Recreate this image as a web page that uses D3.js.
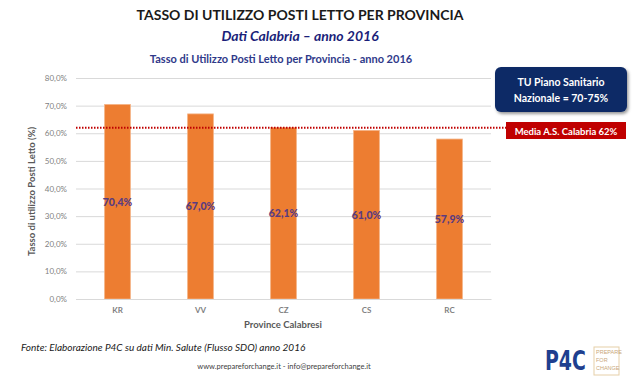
<!DOCTYPE html>
<html lang="it">
<head>
<meta charset="utf-8">
<title>Tasso di utilizzo posti letto</title>
<script src="https://d3js.org/d3.v7.min.js"></script>
<style>
  body { margin: 0; background: #fff; }
  svg { display: block; font-family: Lato, "Open Sans", sans-serif; }
</style>
</head>
<body>
<script>
// data
const province = ["KR", "VV", "CZ", "CS", "RC"];
const tasso = [70.4, 67.0, 62.1, 61.0, 57.9];
const yTicks = [0, 10, 20, 30, 40, 50, 60, 70, 80];
const mediaCalabria = 62;

const W = 632, H = 384;
const m = { left: 76, right: 141, top: 78, bottom: 85 };
const pw = W - m.left - m.right, ph = H - m.top - m.bottom;

const svg = d3.select("body").append("svg").attr("width", W).attr("height", H);

const x = d3.scaleBand().domain(province).range([m.left, m.left + pw]).paddingInner(0.69).paddingOuter(0.345);
const y = d3.scaleLinear().domain([0, 80]).range([m.top + ph, m.top]);
const fmt = v => d3.format(".1f")(v).replace(".", ",") + "%";

// titles
svg.append("text").attr("x", 300).attr("y", 20).attr("text-anchor", "middle")
  .attr("font-size", 14).attr("font-weight", "bold").attr("fill", "#1a1a1a")
  .text("TASSO DI UTILIZZO POSTI LETTO PER PROVINCIA");
svg.append("text").attr("x", 300).attr("y", 41).attr("text-anchor", "middle")
  .attr("font-size", 14).attr("font-weight", "bold").attr("font-style", "italic").attr("fill", "#1b1f7a")
  .text("Dati Calabria \u2013 anno 2016");
svg.append("text").attr("x", 281).attr("y", 63).attr("text-anchor", "middle")
  .attr("font-size", 11).attr("font-weight", "bold").attr("fill", "#2f3a8a")
  .text("Tasso di Utilizzo Posti Letto per Provincia - anno 2016");

// grid + y axis
const yAxis = svg.append("g").attr("transform", `translate(${m.left},0)`)
  .call(d3.axisLeft(y).tickValues(yTicks).tickSize(-(pw)).tickFormat(fmt));
yAxis.select(".domain").remove();
yAxis.selectAll(".tick line").attr("stroke", "#d9d9d9");
yAxis.selectAll(".tick text").attr("x", -9).attr("fill", "#7f7f7f").attr("font-size", 8)
  .attr("font-family", "Lato, sans-serif");

// bars
svg.selectAll("rect.bar").data(tasso).enter().append("rect").attr("class", "bar")
  .attr("x", (d, i) => x(province[i]))
  .attr("y", d => y(d))
  .attr("width", x.bandwidth())
  .attr("height", d => y(0) - y(d))
  .attr("fill", "#ed7d31")
  .attr("stroke", "#f4b183").attr("stroke-width", 0.8);

svg.selectAll("text.val").data(tasso).enter().append("text").attr("class", "val")
  .attr("x", (d, i) => x(province[i]) + x.bandwidth() / 2)
  .attr("y", d => (y(d) + y(0)) / 2 + 4)
  .attr("text-anchor", "middle").attr("font-size", 10.5).attr("font-weight", 900)
  .attr("fill", "#5a3b80").text(fmt);

// x axis
const xAxis = svg.append("g").attr("transform", `translate(0,${y(0)})`)
  .call(d3.axisBottom(x).tickSize(0).tickPadding(8));
xAxis.select(".domain").attr("stroke", "#d9d9d9");
xAxis.selectAll(".tick text").attr("fill", "#7f7f7f").attr("font-size", 8).attr("font-weight", "bold")
  .attr("font-family", "Lato, sans-serif");

// axis titles
svg.append("text").attr("x", 283).attr("y", 328).attr("text-anchor", "middle")
  .attr("font-size", 9.5).attr("font-weight", "bold").attr("fill", "#595959").text("Province Calabresi");
svg.append("text").attr("transform", `translate(35,${(m.top + y(0)) / 2 + 3}) rotate(-90)`)
  .attr("text-anchor", "middle").attr("font-size", 9.5).attr("font-weight", "bold").attr("fill", "#595959")
  .text("Tasso di utilizzo Posti Letto (%)");

// average line
svg.append("line").attr("x1", m.left).attr("x2", 506).attr("y1", y(mediaCalabria)).attr("y2", y(mediaCalabria))
  .attr("stroke", "#c00000").attr("stroke-width", 2).attr("stroke-dasharray", "1.5,1.5");

// red label
svg.append("rect").attr("x", 506).attr("y", 122).attr("width", 120).attr("height", 17).attr("fill", "#c00000");
svg.append("text").attr("x", 566).attr("y", 134.5).attr("text-anchor", "middle")
  .attr("font-size", 9.5).attr("font-weight", "bold").attr("fill", "#fff").text("Media A.S. Calabria 62%");

// navy box
const defs = svg.append("defs");
const f = defs.append("filter").attr("id", "sh").attr("x", "-20%").attr("y", "-20%").attr("width", "150%").attr("height", "160%");
f.append("feDropShadow").attr("dx", 1.5).attr("dy", 2).attr("stdDeviation", 1.5).attr("flood-opacity", 0.4);
svg.append("rect").attr("x", 495).attr("y", 67).attr("width", 132).attr("height", 45).attr("rx", 6)
  .attr("fill", "#0e2a66").attr("filter", "url(#sh)");
svg.append("text").attr("x", 561).attr("y", 86).attr("text-anchor", "middle")
  .attr("font-size", 10.5).attr("font-weight", "bold").attr("fill", "#fff").text("TU Piano Sanitario");
svg.append("text").attr("x", 561).attr("y", 102).attr("text-anchor", "middle")
  .attr("font-size", 10.5).attr("font-weight", "bold").attr("fill", "#fff").text("Nazionale = 70-75%");

// footer
svg.append("text").attr("x", 21).attr("y", 351).attr("font-size", 10).attr("font-style", "italic")
  .attr("fill", "#1a1a1a").text("Fonte: Elaborazione P4C su dati Min. Salute (Flusso SDO) anno 2016");
svg.append("text").attr("x", 284).attr("y", 369).attr("text-anchor", "middle")
  .attr("font-size", 7.5).attr("fill", "#404040").text("www.prepareforchange.it - info@prepareforchange.it");

// logo
svg.append("text").attr("transform", "translate(545,370) scale(1,1.3)")
  .attr("font-size", 21).attr("font-weight", "bold")
  .attr("font-family", "'DejaVu Sans Condensed', 'DejaVu Sans', sans-serif")
  .attr("fill", "#1f3f8f").text("P4C");
svg.append("rect").attr("x", 594).attr("y", 347).attr("width", 25).attr("height", 28)
  .attr("fill", "none").attr("stroke", "#e6cfa8").attr("stroke-width", 1);
const logoTxt = svg.append("text").attr("font-size", 5.5)
  .attr("font-family", "'Liberation Sans Narrow', sans-serif").attr("fill", "#c9a77a");
["PREPARE", "FOR", "CHANGE"].forEach((t, i) => {
  logoTxt.append("tspan").attr("x", 596).attr("y", 354 + i * 8).text(t);
});
</script>
</body>
</html>
